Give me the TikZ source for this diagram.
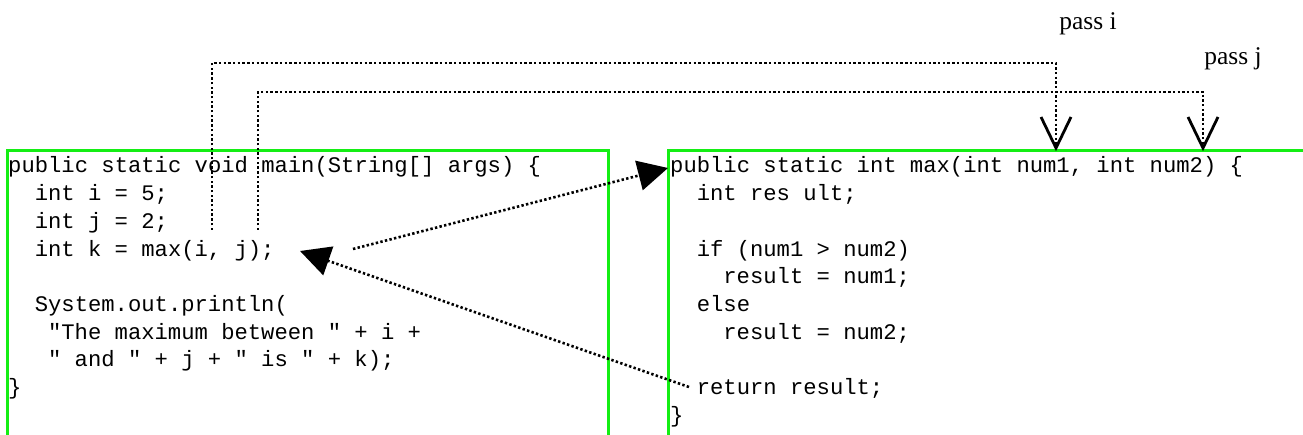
\documentclass[tikz,border=0pt]{standalone}
\usepackage{fontspec}
\usetikzlibrary{arrows.meta,calc}
\newfontfamily\codefont{Liberation Mono}
\newfontfamily\labfont{Liberation Serif}
\definecolor{boxgreen}{RGB}{20,238,20}
\tikzset{
  codebox/.style={draw=boxgreen, line width=3pt},
  codeline/.style={anchor=base west, inner sep=0pt, font=\codefont\fontsize{22.2}{27.7}\selectfont},
  passlabel/.style={anchor=base, inner sep=0pt, font=\labfont\fontsize{25.5}{30}\selectfont},
  dotline/.style={line width=2.6pt, dash pattern=on 2.4pt off 2.3pt, black},
  callarrow/.style={dotline, -{Triangle[length=30pt,width=30pt]}},
  vtip/.style={line width=2.8pt, black, line join=miter},
}
\begin{document}
\begin{tikzpicture}[x=1pt,y=-1pt]
\useasboundingbox (0,0) rectangle (1303,435);
% boxes
\draw[codebox] (7,436) -- (7,151) -- (608,151) -- (608,436);
\draw[codebox] (668,436) -- (668,151) -- (1304,151);
% left code
\def\cw{13.3}
\node[codeline] (l1) at (8,173) {public static void main(String[] args) \{};
\node[codeline] (l2) at (8+2*\cw,200.7) {int i = 5;};
\node[codeline] (l3) at (8+2*\cw,228.4) {int j = 2;};
\node[codeline] (l4) at (8+2*\cw,256.1) {int k = max(i, j);};
\node[codeline] (l6) at (8+2*\cw,311.5) {System.out.println(};
\node[codeline] (l7) at (8+3*\cw,339.2) {"The maximum between " + i +};
\node[codeline] (l8) at (8+3*\cw,366.9) {" and " + j + " is " + k);};
\node[codeline] (l9) at (8,394.6) {\}};
% right code
\node[codeline] (r1) at (670,173) {public static int max(int num1, int num2) \{};
\node[codeline] (r2) at (670+2*\cw,200.7) {int res ult;};
\node[codeline] (r4) at (670+2*\cw,256.1) {if (num1 > num2)};
\node[codeline] (r5) at (670+4*\cw,283.8) {result = num1;};
\node[codeline] (r6) at (670+2*\cw,311.5) {else};
\node[codeline] (r7) at (670+4*\cw,339.2) {result = num2;};
\node[codeline] (r9) at (670+2*\cw,394.6) {return result;};
\node[codeline] (r10) at (670,422.3) {\}};
% labels
\node[passlabel] (passi) at (1088,30) {pass i};
\node[passlabel] (passj) at (1233,65) {pass j};
% pass connectors
\coordinate (istart) at (212,230);
\coordinate (itop) at (1056,63);
\coordinate (itip) at (1056,148);
\coordinate (jstart) at (258,230);
\coordinate (jtop) at (1203,92);
\coordinate (jtip) at (1203,148);
\draw[dotline] (istart) |- (itop) -- (itip);
\draw[dotline] (jstart) |- (jtop) -- (jtip);
\draw[vtip] ($(itip)+(-15,-31)$) -- (itip) -- ($(itip)+(15,-31)$);
\draw[vtip] ($(jtip)+(-15,-31)$) -- (jtip) -- ($(jtip)+(15,-31)$);
% call / return
\coordinate (callsite) at (353,249);
\coordinate (maxentry) at (668,168);
\coordinate (retpt) at (689,387);
\coordinate (callret) at (300,251);
\draw[callarrow] (callsite) -- (maxentry);
\draw[callarrow] (retpt) -- (callret);
\end{tikzpicture}
\end{document}
